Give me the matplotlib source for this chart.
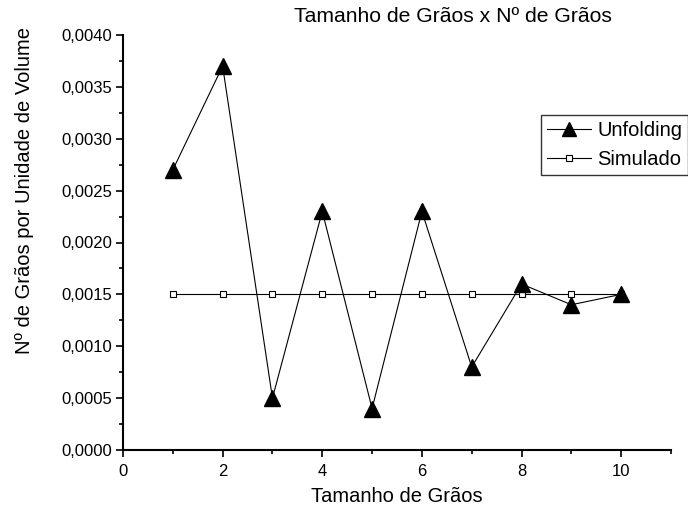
import matplotlib
matplotlib.use("Agg")
import matplotlib.pyplot as plt
from matplotlib.ticker import FuncFormatter, MultipleLocator

plt.rcParams['font.family'] = ['Liberation Sans', 'DejaVu Sans']

tamanho = [1, 2, 3, 4, 5, 6, 7, 8, 9, 10]
unfolding = [0.0027, 0.0037, 0.0005, 0.0023, 0.0004, 0.0023, 0.0008, 0.0016, 0.0014, 0.0015]
simulado = [0.0015] * 10

W, H = 688, 514
fig = plt.figure(figsize=(W/100, H/100), dpi=100)
ax = fig.add_axes([123/W, 1-450/H, (671-123)/W, (450-35)/H])

ax.plot(tamanho, simulado, color='black', lw=0.8, marker='s', ms=5,
        mfc='white', mec='black', mew=0.8, label='Simulado', zorder=2)
ax.plot(tamanho, unfolding, color='black', lw=0.8, marker='^', ms=12,
        mfc='black', mec='black', label='Unfolding', zorder=3)

ax.set_xlim(0, 11)
ax.set_ylim(0, 0.004)
ax.xaxis.set_major_locator(MultipleLocator(2))
ax.xaxis.set_minor_locator(MultipleLocator(1))
ax.yaxis.set_major_locator(MultipleLocator(0.0005))
ax.yaxis.set_minor_locator(MultipleLocator(0.00025))
ax.yaxis.set_major_formatter(FuncFormatter(lambda v, p: f"{v:.4f}".replace('.', ',')))
ax.xaxis.set_major_formatter(FuncFormatter(lambda v, p: f"{int(round(v))}"))

for s in ['top', 'right']:
    ax.spines[s].set_visible(False)
for s in ['left', 'bottom']:
    ax.spines[s].set_linewidth(1.5)
ax.tick_params(which='major', direction='out', length=5, width=1.2, labelsize=12)
ax.tick_params(which='minor', direction='out', length=3, width=1.2)
ax.tick_params(axis='x', which='major', pad=5)
ax.tick_params(axis='y', which='major', pad=2.5)

fig.text(397/W, 1-497/H, 'Tamanho de Grãos', ha='center', va='center', fontsize=14.5)
fig.text(25/W, 1-190/H, 'Nº de Grãos por Unidade de Volume', ha='center', va='center',
         rotation=90, fontsize=14.5)
fig.text(453/W, 1-16/H, 'Tamanho de Grãos x Nº de Grãos', ha='center', va='center', fontsize=15.2)

h, l = ax.get_legend_handles_labels()
leg = fig.legend([h[1], h[0]], [l[1], l[0]], loc='upper left',
                 bbox_to_anchor=(541/W, 1-115/H), fontsize=14.5,
                 frameon=True, fancybox=False, edgecolor='black',
                 handlelength=2.2, handletextpad=0.3, borderpad=0.3,
                 labelspacing=0.5, borderaxespad=0)
leg.get_frame().set_linewidth(1.0)
for lh in leg.legend_handles:
    if lh.get_marker() == '^':
        lh.set_markersize(9.5)

fig.savefig('out.png', dpi=100)
